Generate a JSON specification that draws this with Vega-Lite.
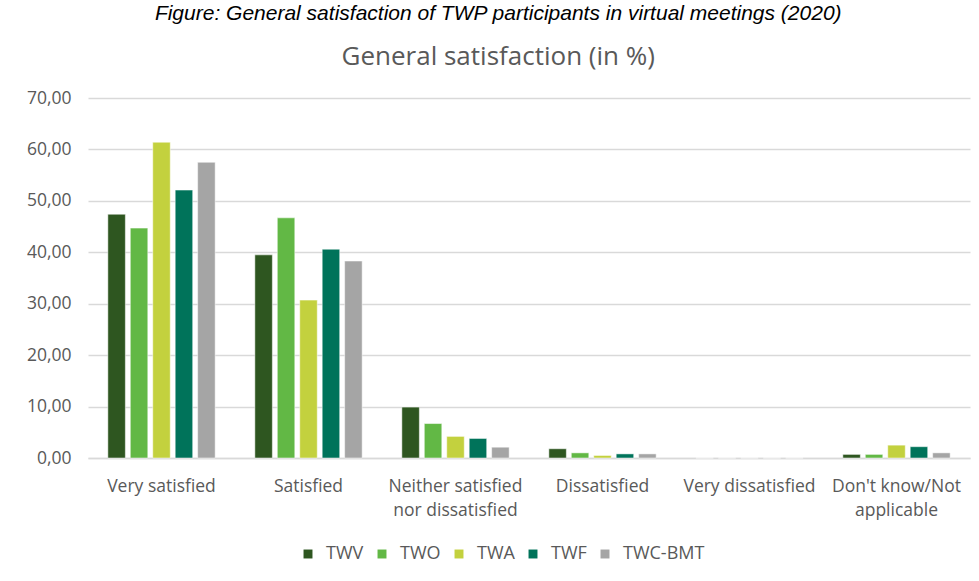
{
  "$schema": "https://vega.github.io/schema/vega-lite/v6.json",
  "autosize": {"type": "fit", "contains": "padding"},
  "width": 979,
  "height": 581,
  "padding": {"left": 26, "right": 9, "top": 3, "bottom": 62},
  "background": "white",
  "title": {
    "text": "Figure: General satisfaction of TWP participants in virtual meetings (2020)",
    "subtitle": "General satisfaction (in %)",
    "anchor": "middle",
    "frame": "bounds",
    "font": "Liberation Sans",
    "fontSize": 21,
    "fontStyle": "italic",
    "fontWeight": "normal",
    "color": "#000000",
    "subtitleFont": "Open Sans",
    "subtitleFontSize": 26,
    "subtitleColor": "#595959",
    "subtitlePadding": 20,
    "offset": 19
  },
  "data": {
    "values": [
      {"category": "Very satisfied", "group": "TWV", "value": 47.4},
      {"category": "Very satisfied", "group": "TWO", "value": 44.7},
      {"category": "Very satisfied", "group": "TWA", "value": 61.4},
      {"category": "Very satisfied", "group": "TWF", "value": 52.1},
      {"category": "Very satisfied", "group": "TWC-BMT", "value": 57.5},
      {"category": "Satisfied", "group": "TWV", "value": 39.5},
      {"category": "Satisfied", "group": "TWO", "value": 46.7},
      {"category": "Satisfied", "group": "TWA", "value": 30.7},
      {"category": "Satisfied", "group": "TWF", "value": 40.6},
      {"category": "Satisfied", "group": "TWC-BMT", "value": 38.3},
      {"category": "Neither satisfied nor dissatisfied", "group": "TWV", "value": 9.9},
      {"category": "Neither satisfied nor dissatisfied", "group": "TWO", "value": 6.7},
      {"category": "Neither satisfied nor dissatisfied", "group": "TWA", "value": 4.2},
      {"category": "Neither satisfied nor dissatisfied", "group": "TWF", "value": 3.8},
      {"category": "Neither satisfied nor dissatisfied", "group": "TWC-BMT", "value": 2.1},
      {"category": "Dissatisfied", "group": "TWV", "value": 1.8},
      {"category": "Dissatisfied", "group": "TWO", "value": 1.0},
      {"category": "Dissatisfied", "group": "TWA", "value": 0.5},
      {"category": "Dissatisfied", "group": "TWF", "value": 0.8},
      {"category": "Dissatisfied", "group": "TWC-BMT", "value": 0.8},
      {"category": "Very dissatisfied", "group": "TWV", "value": 0},
      {"category": "Very dissatisfied", "group": "TWO", "value": 0},
      {"category": "Very dissatisfied", "group": "TWA", "value": 0},
      {"category": "Very dissatisfied", "group": "TWF", "value": 0},
      {"category": "Very dissatisfied", "group": "TWC-BMT", "value": 0},
      {"category": "Don't know/Not applicable", "group": "TWV", "value": 0.7},
      {"category": "Don't know/Not applicable", "group": "TWO", "value": 0.7},
      {"category": "Don't know/Not applicable", "group": "TWA", "value": 2.5},
      {"category": "Don't know/Not applicable", "group": "TWF", "value": 2.2},
      {"category": "Don't know/Not applicable", "group": "TWC-BMT", "value": 1.0}
    ]
  },
  "mark": {"type": "bar", "stroke": "white", "strokeWidth": 0.5},
  "encoding": {
    "x": {
      "field": "category",
      "type": "nominal",
      "sort": ["Very satisfied", "Satisfied", "Neither satisfied nor dissatisfied", "Dissatisfied", "Very dissatisfied", "Don't know/Not applicable"],
      "scale": {"paddingInner": 0.27, "paddingOuter": 0.135},
      "title": null,
      "axis": {
        "labelAngle": 0,
        "labelFont": "Open Sans",
        "labelFontSize": 17.5,
        "labelColor": "#595959",
        "labelPadding": 19,
        "labelLineHeight": 24,
        "ticks": false,
        "domainColor": "#d9d9d9",
        "domainWidth": 1.5,
        "labelExpr": "datum.label == 'Neither satisfied nor dissatisfied' ? ['Neither satisfied', 'nor dissatisfied'] : datum.label == \"Don't know/Not applicable\" ? [\"Don't know/Not\", 'applicable'] : datum.label"
      }
    },
    "xOffset": {
      "field": "group",
      "type": "nominal",
      "sort": ["TWV", "TWO", "TWA", "TWF", "TWC-BMT"],
      "scale": {"paddingInner": 0.22}
    },
    "y": {
      "field": "value",
      "type": "quantitative",
      "scale": {"domain": [0, 70]},
      "title": null,
      "axis": {
        "values": [0, 10, 20, 30, 40, 50, 60, 70],
        "labelExpr": "replace(format(datum.value, '.2f'), '.', ',')",
        "labelFont": "Open Sans",
        "labelFontSize": 17.5,
        "labelColor": "#595959",
        "labelPadding": 17,
        "ticks": false,
        "domain": false,
        "gridColor": "#d9d9d9",
        "gridWidth": 1.5
      }
    },
    "color": {
      "field": "group",
      "type": "nominal",
      "sort": ["TWV", "TWO", "TWA", "TWF", "TWC-BMT"],
      "scale": {
        "domain": ["TWV", "TWO", "TWA", "TWF", "TWC-BMT"],
        "range": ["#2e5620", "#62b845", "#c3d13e", "#00735a", "#a5a5a5"]
      },
      "legend": {
        "title": null,
        "orient": "none",
        "legendX": 211,
        "legendY": 447,
        "direction": "horizontal",
        "symbolType": "square",
        "symbolSize": 80,
        "symbolStrokeWidth": 0,
        "labelOffset": 9,
        "labelFont": "Open Sans",
        "labelFontSize": 18,
        "labelColor": "#595959",
        "columnPadding": 9
      }
    }
  },
  "config": {"view": {"stroke": null}}
}
